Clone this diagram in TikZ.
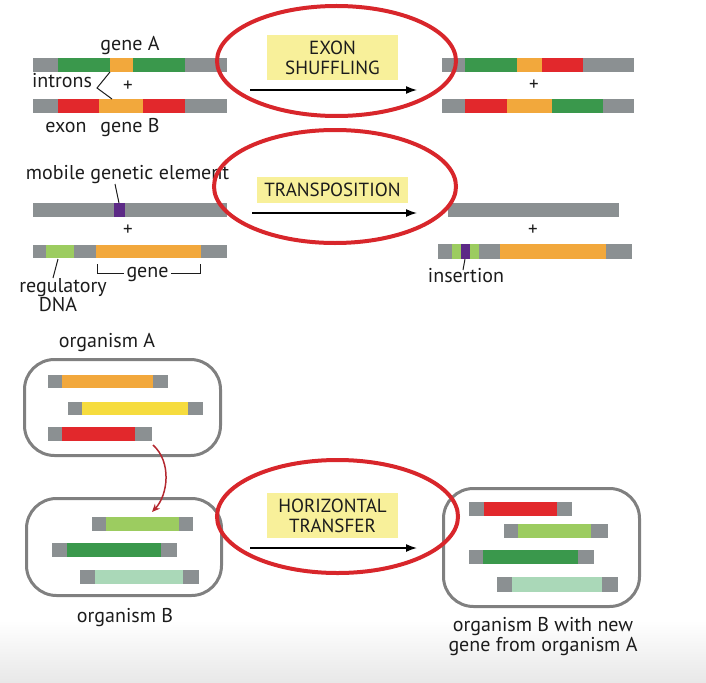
\documentclass[tikz,border=0pt]{standalone}
\usepackage{fontspec}
\setmainfont{PT Sans}
\usetikzlibrary{arrows.meta}
\definecolor{cGray}{RGB}{139,144,146}
\definecolor{cGreen}{RGB}{58,152,76}
\definecolor{cRed}{RGB}{226,40,44}
\definecolor{cOrange}{RGB}{242,168,60}
\definecolor{cYellow}{RGB}{246,220,62}
\definecolor{cLight}{RGB}{156,204,96}
\definecolor{cPale}{RGB}{170,216,184}
\definecolor{cPurple}{RGB}{92,42,134}
\definecolor{labYellow}{RGB}{248,240,154}
\definecolor{ringRed}{RGB}{216,38,43}
\definecolor{arrRed}{RGB}{180,40,48}
\definecolor{boxGray}{RGB}{128,128,128}
\definecolor{txt}{RGB}{28,28,28}
\begin{document}
\begin{tikzpicture}[x=1pt,y=-1pt,
  lbl/.style={font=\fontsize{20}{21}\selectfont, text=txt, inner sep=0pt, anchor=base},
  boxlbl/.style={fill=labYellow, font=\fontsize{19}{20}\selectfont, text=txt, align=center, inner sep=0pt},
  ring/.style={draw=ringRed, line width=4pt},
  proc/.style={-{Latex[length=11pt,width=8pt]}, line width=1.5pt, draw=black},
  pointer/.style={draw=txt, line width=1pt},
  org/.style={draw=boxGray, line width=3pt, rounded corners=30pt, inner sep=0pt},
  redarrow/.style={draw=arrRed, line width=1.5pt, -{Stealth[length=8pt,width=7pt]}},
  plus/.style={font=\fontsize{19}{19}\selectfont, text=txt, inner sep=0pt},
]
\useasboundingbox (0,0) rectangle (706,682);
\shade[top color=white, bottom color=black!9] (0,620) rectangle (706,682);

% ===== EXON SHUFFLING =====
% left bars
\fill[cGray] (33,58) rectangle (227,72);
\fill[cGreen] (58,58) rectangle (110,72);
\fill[cOrange] (110,58) rectangle (133,72);
\fill[cGreen] (133,58) rectangle (185,72);
\fill[cGray] (33,99) rectangle (227,113);
\fill[cRed] (58,99) rectangle (99,113);
\fill[cOrange] (99,99) rectangle (143,113);
\fill[cRed] (143,99) rectangle (185,113);
\node[lbl] (geneA) at (130,51) {gene A};
\node[lbl] (introns) at (62,88) {introns};
\node[lbl] (exon) at (66,132) {exon};
\node[lbl] (geneB) at (130,132) {gene B};
\node[plus] (plus1) at (128,86) {+};
\coordinate (intTip) at (97,88);
\coordinate (intUp) at (110,72);
\coordinate (intDn) at (112,99);
\draw[pointer] (intUp) -- (intTip) -- (intDn);
% right bars
\fill[cGray] (442,58) rectangle (634,72);
\fill[cGreen] (465,58) rectangle (517,72);
\fill[cOrange] (517,58) rectangle (542,72);
\fill[cRed] (542,58) rectangle (583,72);
\fill[cGray] (442,99) rectangle (634,113);
\fill[cRed] (465,99) rectangle (507,113);
\fill[cOrange] (507,99) rectangle (552,113);
\fill[cGreen] (552,99) rectangle (603,113);
\node[plus] (plus2) at (534,85) {+};
% label and arrow
\node[boxlbl, minimum width=131pt, minimum height=45pt] (exonbox) at (332.5,57.5) {EXON\\SHUFFLING};
\coordinate (a1s) at (250,90);
\coordinate (a1e) at (417,90);
\draw[proc] (a1s) -- (a1e);

% ===== TRANSPOSITION =====
\fill[cGray] (33,203) rectangle (227,217);
\fill[cPurple] (114,203) rectangle (125,217);
\node[lbl] (mobile) at (127.5,179) {mobile genetic element};
\coordinate (mobA) at (115,184);
\coordinate (mobB) at (119,203);
\draw[pointer] (mobA) -- (mobB);
\node[plus] (plus3) at (128,230) {+};
\fill[cGray] (33,245) rectangle (227,258);
\fill[cLight] (46,245) rectangle (74,258);
\fill[cOrange] (96,245) rectangle (201,258);
\coordinate (brL) at (97,264);
\coordinate (brR) at (200,264);
\draw[pointer] (brL) -- (97,273) -- (124,273);
\draw[pointer] (171,273) -- (200,273) -- (brR);
\node[lbl] (gene) at (147.5,277) {gene};
\coordinate (regA) at (58,259);
\coordinate (regB) at (53,278);
\draw[pointer] (regA) -- (regB);
\node[lbl] (regul) at (63,292) {regulatory};
\node[lbl] (dna) at (58,311) {DNA};
% right
\fill[cGray] (448,203) rectangle (619,217);
\node[plus] (plus4) at (533,230) {+};
\fill[cGray] (438,244) rectangle (632,259);
\fill[cLight] (452,244) rectangle (479,259);
\fill[cPurple] (461,244) rectangle (470,259);
\fill[cOrange] (500,244) rectangle (606,259);
\coordinate (insA) at (465,259);
\coordinate (insB) at (463,270);
\draw[pointer] (insA) -- (insB);
\node[lbl] (insertion) at (466,282) {insertion};
\node[boxlbl, minimum width=151pt, minimum height=26pt] (transbox) at (332.5,190) {TRANSPOSITION};
\coordinate (a2s) at (252,213);
\coordinate (a2e) at (417,213);
\draw[proc] (a2s) -- (a2e);

% ===== HORIZONTAL TRANSFER =====
\node[lbl] (orgAlbl) at (107,347) {organism A};
\node[org, minimum width=196pt, minimum height=96pt] (orgA) at (122.5,407.5) {};
\fill[cGray] (48,375) rectangle (168,388);
\fill[cOrange] (62,375) rectangle (153,388);
\fill[cGray] (68,402) rectangle (203,415);
\fill[cYellow] (82,402) rectangle (188,415);
\fill[cGray] (48,427) rectangle (152,441);
\fill[cRed] (62,427) rectangle (135,441);

\node[org, minimum width=195pt, minimum height=97pt] (orgB) at (124,547) {};
\fill[cGray] (92,517) rectangle (193,531);
\fill[cLight] (106,517) rectangle (179,531);
\fill[cGray] (52,543) rectangle (177,557);
\fill[cGreen] (67,543) rectangle (161,557);
\fill[cGray] (80,570) rectangle (199,584);
\fill[cPale] (95,570) rectangle (183,584);
\node[lbl] (orgBlbl) at (125,622) {organism B};

\coordinate (redS) at (153,445);
\coordinate (redE) at (152,512);
\draw[redarrow] (redS) .. controls (172,462) and (168,495) .. (redE);

\node[org, minimum width=196pt, minimum height=118pt] (orgC) at (541.5,547.5) {};
\fill[cGray] (469,502) rectangle (572,516);
\fill[cRed] (484,502) rectangle (557,516);
\fill[cGray] (504,524) rectangle (608,538);
\fill[cLight] (518,524) rectangle (591,538);
\fill[cGray] (469,550) rectangle (594,564);
\fill[cGreen] (483,550) rectangle (578,564);
\fill[cGray] (497,577) rectangle (618,592);
\fill[cPale] (512,577) rectangle (602,592);
\node[lbl] (orgClbl1) at (543,631) {organism B with new};
\node[lbl] (orgClbl2) at (543,651) {gene from organism A};

\node[boxlbl, minimum width=131pt, minimum height=45pt] (horbox) at (332.5,515.5) {HORIZONTAL\\TRANSFER};
\coordinate (a3s) at (250,548);
\coordinate (a3e) at (417,548);
\draw[proc] (a3s) -- (a3e);

% ===== red rings =====
\draw[ring] (336.5,61) ellipse [x radius=119.5pt, y radius=55pt];
\draw[ring] (335,186.5) ellipse [x radius=121pt, y radius=56.5pt];
\draw[ring] (337.5,516.5) ellipse [x radius=120.5pt, y radius=56.5pt];
\end{tikzpicture}
\end{document}
